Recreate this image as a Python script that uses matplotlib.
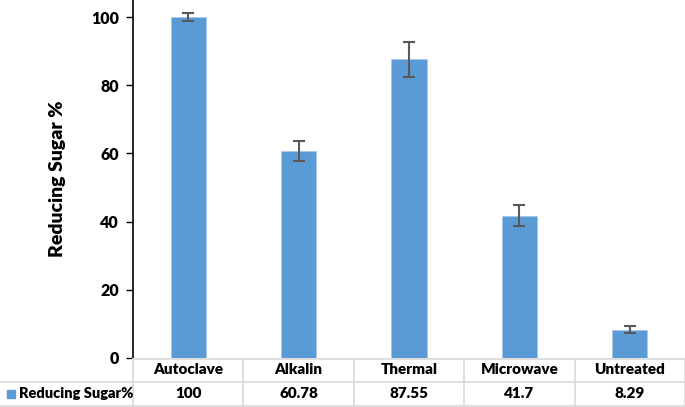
import numpy as np
import matplotlib.pyplot as plt
from matplotlib.patches import Rectangle

categories = ['Autoclave', 'Alkalin', 'Thermal', 'Microwave', 'Untreated']
sugar = [100, 60.78, 87.55, 41.7, 8.29]
sugar_err = [1.3, 3.0, 5.0, 3.1, 1.1]
table_labels = ['100', '60.78', '87.55', '41.7', '8.29']
yticks = [0, 20, 40, 60, 80, 100]

plt.rcParams['font.family'] = ['Lato', 'DejaVu Sans']
plt.rcParams['font.weight'] = 'bold'

W, H = 685, 407
fig = plt.figure(figsize=(W / 100, H / 100), dpi=100)

x0, y0 = 133, 358  # axis origin in pixels (from top)
ax = fig.add_axes([x0 / W, (H - y0) / H, (W - x0) / W, y0 / H])
xpos = np.arange(len(categories))
ax.bar(xpos, sugar, width=0.32, color='#5B9BD5', edgecolor='#A9C8EA', linewidth=0.6,
       yerr=sugar_err, error_kw=dict(ecolor='#595959', elinewidth=1.5, capsize=4, capthick=1.5))
ax.set_xlim(-0.5, len(categories) - 0.5)
ax.set_ylim(0, 105)
ax.set_yticks(yticks)
ax.set_xticks([])
ax.tick_params(axis='y', labelsize=11.5, length=5, width=1, pad=5)
for lab in ax.get_yticklabels():
    lab.set_fontweight('heavy')
for s in ['top', 'right', 'bottom']:
    ax.spines[s].set_visible(False)
ax.spines['left'].set_linewidth(1.2)
ax.set_ylabel('Reducing Sugar %', fontsize=14, fontweight='heavy', labelpad=18)

# data table below the plot
cw = (W - x0) / len(categories)
tax = fig.add_axes([0, 0, 1, (H - y0) / H])
tax.set_xlim(-0.5 - x0 / cw, len(categories) - 0.5)
tax.set_ylim(0, H - y0)
tax.axis('off')
grid = '#D9D9D9'
row1, row2, bot = H - y0, H - 382, 1
tax.plot([-0.5, len(categories) - 0.5], [row1 - 0.5, row1 - 0.5], color=grid, lw=1.2)
tax.plot([-0.5 - x0 / cw, len(categories) - 0.5], [row2, row2], color=grid, lw=1.2)
tax.plot([-0.5 - x0 / cw, len(categories) - 0.5], [bot, bot], color=grid, lw=1.2)
for k in range(len(categories) + 1):
    xe = k - 0.5
    tax.plot([xe, xe], [bot, row1], color=grid, lw=1.2)
for i, (c, v) in enumerate(zip(categories, table_labels)):
    tax.text(i, (row1 + row2) / 2, c, ha='center', va='center', fontsize=11, fontweight='heavy')
    tax.text(i, (row2 + bot) / 2, v, ha='center', va='center', fontsize=11, fontweight='heavy')
lx = -0.5 - x0 / cw
tax.add_patch(Rectangle((lx + 7 / cw, (row2 + bot) / 2 - 4), 8 / cw, 8, color='#5B9BD5'))
tax.text(lx + 19 / cw, (row2 + bot) / 2, 'Reducing Sugar%', ha='left', va='center',
         fontsize=10.5, fontweight='heavy')

fig.savefig('out.png', dpi=100)
